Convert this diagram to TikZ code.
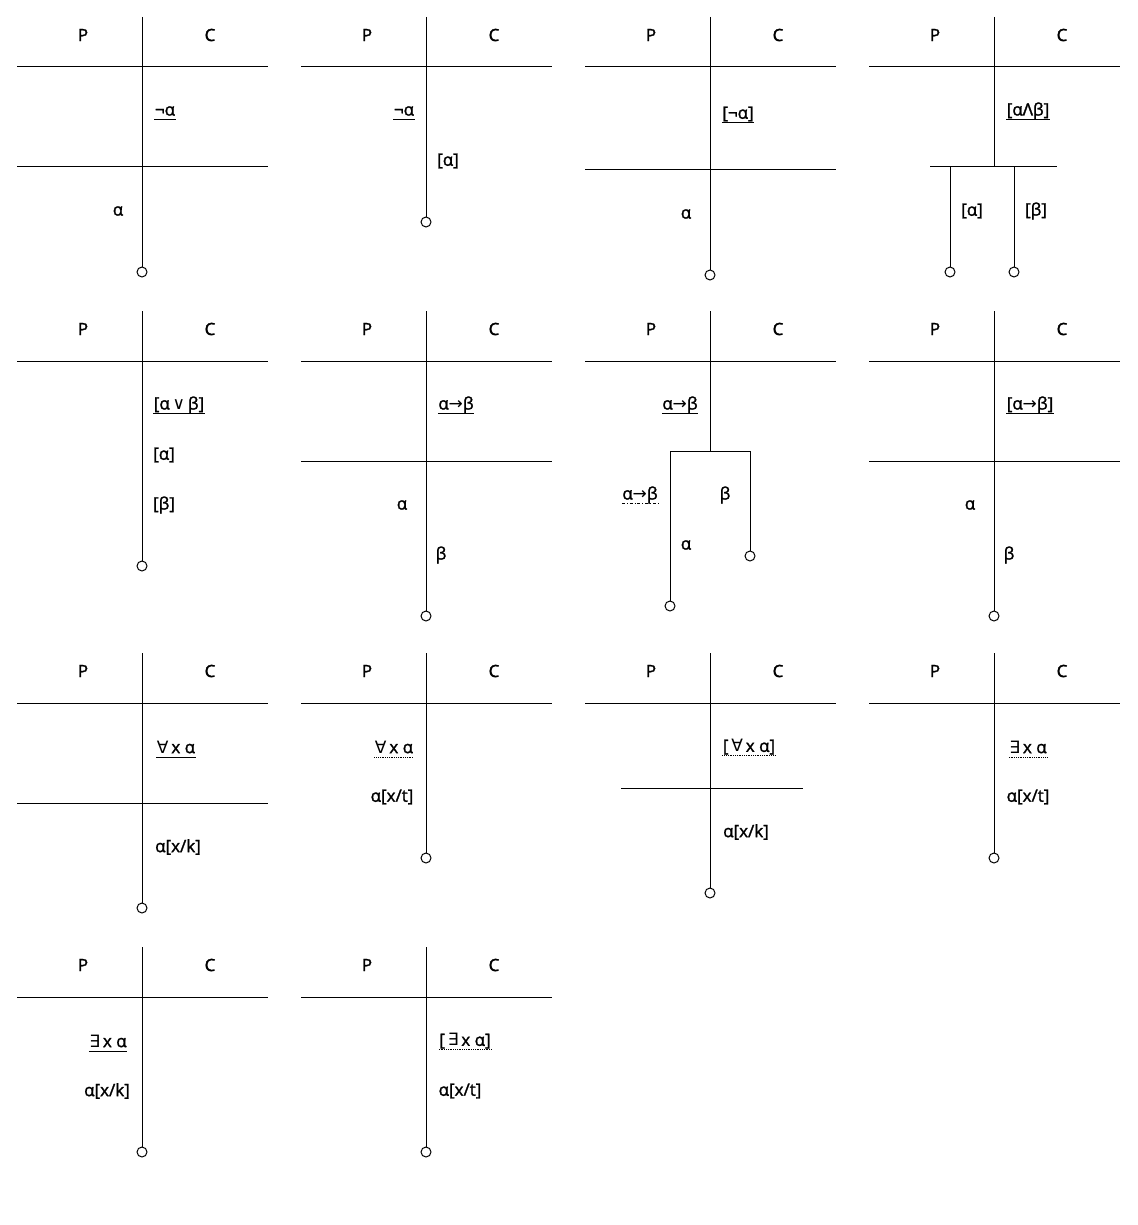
\documentclass[tikz,border=0pt]{standalone}
\usepackage{fontspec}
\setmainfont{Open Sans}
\newfontfamily\symfont{DejaVu Sans}
\usetikzlibrary{positioning}
\newcommand{\tabimp}{{\symfont\char"2192}}
\newcommand{\tabor}{{\symfont\char"2228}}
\newcommand{\taball}{{\symfont\char"2200}}
\newcommand{\tabex}{{\symfont\char"2203}}
\tikzstyle{lbl}=[inner sep=0pt,font=\fontsize{17}{20}\selectfont\addfontfeature{FakeBold=1.5}]
\tikzstyle{ul}=[lbl,append after command={([yshift=-4pt]\tikzlastnode.base west) edge[line width=0.8pt] ([yshift=-4pt]\tikzlastnode.base east)}]
\tikzstyle{uldot}=[lbl,append after command={([yshift=-4pt]\tikzlastnode.base west) edge[line width=0.8pt,densely dotted] ([yshift=-4pt]\tikzlastnode.base east)}]
\tikzstyle{uldash}=[lbl,append after command={([yshift=-4pt]\tikzlastnode.base west) edge[line width=0.8pt,dash dot] ([yshift=-4pt]\tikzlastnode.base east)}]
\tikzstyle{tip}=[circle,draw,fill=white,minimum size=10pt,inner sep=0pt]
\tikzstyle{rule}=[draw,line width=1pt]
\begin{document}
\begin{tikzpicture}[x=1pt,y=-1pt,line width=1pt]
    \useasboundingbox (0,0) rectangle (1137,1225);
    % First the heads of all tableaux
    \foreach \cx/\top/\id in {142/17/1, 426/17/2, 710/17/3, 994/17/4, 142/311/5, 426/311/6, 710/311/7, 994/311/8,
                              142/653/9, 426/653/10, 710/653/11, 994/653/12, 142/947/13, 426/947/14}
    {
        \coordinate (t\id) at (\cx,\top);
        \path[rule] (\cx-125,\top+50) -- (\cx+126,\top+50);
        \node[lbl] (P\id) at (\cx-59,\top+18) {P};
        \node[lbl] (C\id) at (\cx+68,\top+18) {C};
    }
    % Ends of the branches
    \foreach \pos/\name in {{(142,272)/e1}, {(426,222)/e2}, {(710,275)/e3}, {(950,272)/e4a}, {(1014,272)/e4b},
                            {(142,566)/e5}, {(426,616)/e6}, {(670,606)/e7a}, {(750,556)/e7b}, {(994,616)/e8},
                            {(142,908)/e9}, {(426,858)/e10}, {(710,893)/e11}, {(994,858)/e12},
                            {(142,1152)/e13}, {(426,1152)/e14}}
        \node[tip] (\name) at \pos {};
    % Straight branches
    \foreach \source/\dest in {t1/e1, t2/e2, t3/e3, t5/e5, t6/e6, t8/e8, t9/e9, t10/e10, t11/e11, t12/e12, t13/e13, t14/e14}
        \path[rule] (\source) -- (\dest.north);
    % Split branches
    \coordinate (s4) at (994,167);
    \path[rule] (t4) -- (s4);
    \path[rule] (930,167) -- (1057,167);
    \path[rule] (950,167) -- (e4a.north);
    \path[rule] (1014,167) -- (e4b.north);
    \coordinate (s7) at (710,451);
    \path[rule] (t7) -- (s7);
    \path[rule] (e7a.north) -- (670,451) -- (750,451) -- (e7b.north);
    % Closing lines
    \path[rule] (17,167) -- (268,167);
    \path[rule] (585,170) -- (836,170);
    \path[rule] (301,461) -- (552,461);
    \path[rule] (869,461) -- (1120,461);
    \path[rule] (17,803) -- (268,803);
    \path[rule] (621,788) -- (803,788);
    % Formulas
    \node[ul] (f1a) at (165,111) {¬α};
    \node[lbl] (f1b) at (118,211) {α};
    \node[ul] (f2a) at (404,111) {¬α};
    \node[lbl] (f2b) at (448,161) {[α]};
    \node[ul] (f3a) at (738,114) {[¬α]};
    \node[lbl] (f3b) at (686,214) {α};
    \node[ul] (f4a) at (1028,111) {[αΛβ]};
    \node[lbl] (f4b) at (972,211) {[α]};
    \node[lbl] (f4c) at (1036,211) {[β]};
    \node[ul] (f5a) at (179,405) {[α\,\tabor\,β]};
    \node[lbl] (f5b) at (164,455) {[α]};
    \node[lbl] (f5c) at (164,505) {[β]};
    \node[ul] (f6a) at (456,405) {α\tabimp β};
    \node[lbl] (f6b) at (402,505) {α};
    \node[lbl] (f6c) at (441,555) {β};
    \node[ul] (f7a) at (680,405) {α\tabimp β};
    \node[uldash] (f7b) at (640,495) {α\tabimp β};
    \node[lbl] (f7c) at (725,495) {β};
    \node[lbl] (f7d) at (686,545) {α};
    \node[ul] (f8a) at (1030,405) {[α\tabimp β]};
    \node[lbl] (f8b) at (970,505) {α};
    \node[lbl] (f8c) at (1009,555) {β};
    \node[ul] (f9a) at (176,747) {\taball\,x α};
    \node[lbl] (f9b) at (178,847) {α[x/k]};
    \node[uldot] (f10a) at (394,747) {\taball\,x α};
    \node[lbl] (f10b) at (392,797) {α[x/t]};
    \node[uldot] (f11a) at (749,747) {[\,\taball\,x α]};
    \node[lbl] (f11b) at (746,832) {α[x/k]};
    \node[uldot] (f12a) at (1028,747) {\tabex\,x α};
    \node[lbl] (f12b) at (1028,797) {α[x/t]};
    \node[ul] (f13a) at (108,1041) {\tabex\,x α};
    \node[lbl] (f13b) at (107,1091) {α[x/k]};
    \node[uldot] (f14a) at (465,1041) {[\,\tabex\,x α]};
    \node[lbl] (f14b) at (460,1091) {α[x/t]};
\end{tikzpicture}
\end{document}
